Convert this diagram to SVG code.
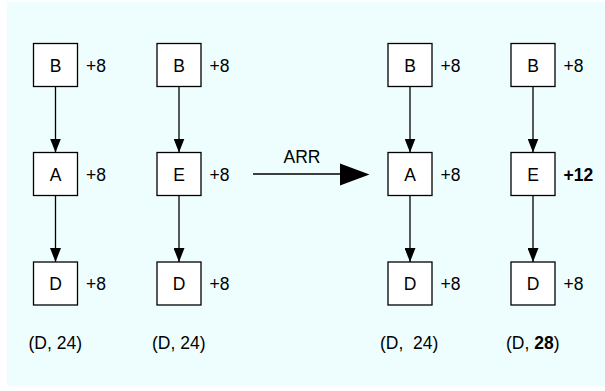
<svg xmlns="http://www.w3.org/2000/svg" width="605" height="391" viewBox="0 0 605 391">
<style>
.bx{fill:#fff;stroke:#000;stroke-width:1.3}
.t{font-family:"Liberation Sans",Arial,sans-serif;font-size:17.5px;fill:#000}
.c{text-anchor:middle}
.b{font-weight:bold}
.ln{stroke:#000;stroke-width:1.3;fill:none}
</style>
<defs>
<marker id="a" viewBox="0 0 14 11" refX="14" refY="5.5" markerWidth="14" markerHeight="11" markerUnits="userSpaceOnUse" orient="auto">
<path d="M0,0 L14,5.5 L0,11 Z" fill="#000"/>
</marker>
</defs>
<rect x="7" y="2" width="598" height="384" fill="#eefefe"/>
<g id="connectors">
<line class="ln" x1="55.5" y1="86.5" x2="55.5" y2="152.5" marker-end="url(#a)"/>
<line class="ln" x1="55.5" y1="195.5" x2="55.5" y2="262" marker-end="url(#a)"/>
<line class="ln" x1="179" y1="86.5" x2="179" y2="152.5" marker-end="url(#a)"/>
<line class="ln" x1="179" y1="195.5" x2="179" y2="262" marker-end="url(#a)"/>
<line class="ln" x1="410" y1="86.5" x2="410" y2="152.5" marker-end="url(#a)"/>
<line class="ln" x1="410" y1="195.5" x2="410" y2="262" marker-end="url(#a)"/>
<line class="ln" x1="533" y1="86.5" x2="533" y2="152.5" marker-end="url(#a)"/>
<line class="ln" x1="533" y1="195.5" x2="533" y2="262" marker-end="url(#a)"/>
<g id="arr">
<line class="ln" x1="253" y1="174" x2="341" y2="174"/>
<polygon points="340,163.5 369.5,174.5 340,185.5" fill="#000"/>
<text class="t c" x="302" y="163">ARR</text>
</g>
</g>
<g id="B1"><rect class="bx" x="33.5" y="43.5" width="44" height="43"/><text class="t c" x="55.5" y="71.5">B</text><text class="t" x="86" y="71.5">+8</text></g>
<g id="A1"><rect class="bx" x="33.5" y="152.5" width="44" height="43"/><text class="t c" x="55.5" y="180.5">A</text><text class="t" x="86" y="180.5">+8</text></g>
<g id="D1"><rect class="bx" x="33.5" y="262" width="44" height="43"/><text class="t c" x="55.5" y="290">D</text><text class="t" x="86" y="290">+8</text></g>
<g id="B2"><rect class="bx" x="157" y="43.5" width="44" height="43"/><text class="t c" x="179" y="71.5">B</text><text class="t" x="209.5" y="71.5">+8</text></g>
<g id="E2"><rect class="bx" x="157" y="152.5" width="44" height="43"/><text class="t c" x="179" y="180.5">E</text><text class="t" x="209.5" y="180.5">+8</text></g>
<g id="D2"><rect class="bx" x="157" y="262" width="44" height="43"/><text class="t c" x="179" y="290">D</text><text class="t" x="209.5" y="290">+8</text></g>
<g id="B3"><rect class="bx" x="388" y="43.5" width="44" height="43"/><text class="t c" x="410" y="71.5">B</text><text class="t" x="440.5" y="71.5">+8</text></g>
<g id="A3"><rect class="bx" x="388" y="152.5" width="44" height="43"/><text class="t c" x="410" y="180.5">A</text><text class="t" x="440.5" y="180.5">+8</text></g>
<g id="D3"><rect class="bx" x="388" y="262" width="44" height="43"/><text class="t c" x="410" y="290">D</text><text class="t" x="440.5" y="290">+8</text></g>
<g id="B4"><rect class="bx" x="511" y="43.5" width="44" height="43"/><text class="t c" x="533" y="71.5">B</text><text class="t" x="563.5" y="71.5">+8</text></g>
<g id="E4"><rect class="bx" x="511" y="152.5" width="44" height="43"/><text class="t c" x="533" y="180.5">E</text><text class="t b" x="563.5" y="180.5">+12</text></g>
<g id="D4"><rect class="bx" x="511" y="262" width="44" height="43"/><text class="t c" x="533" y="290">D</text><text class="t" x="563.5" y="290">+8</text></g>
<g id="labels">
<text class="t" x="28.5" y="348.5">(D, 24)</text>
<text class="t" x="152" y="348.5">(D, 24)</text>
<text class="t" x="380" y="348.5" xml:space="preserve">(D,  24)</text>
<text class="t" x="506" y="348.5">(D, <tspan class="b">28</tspan>)</text>
</g>
</svg>
